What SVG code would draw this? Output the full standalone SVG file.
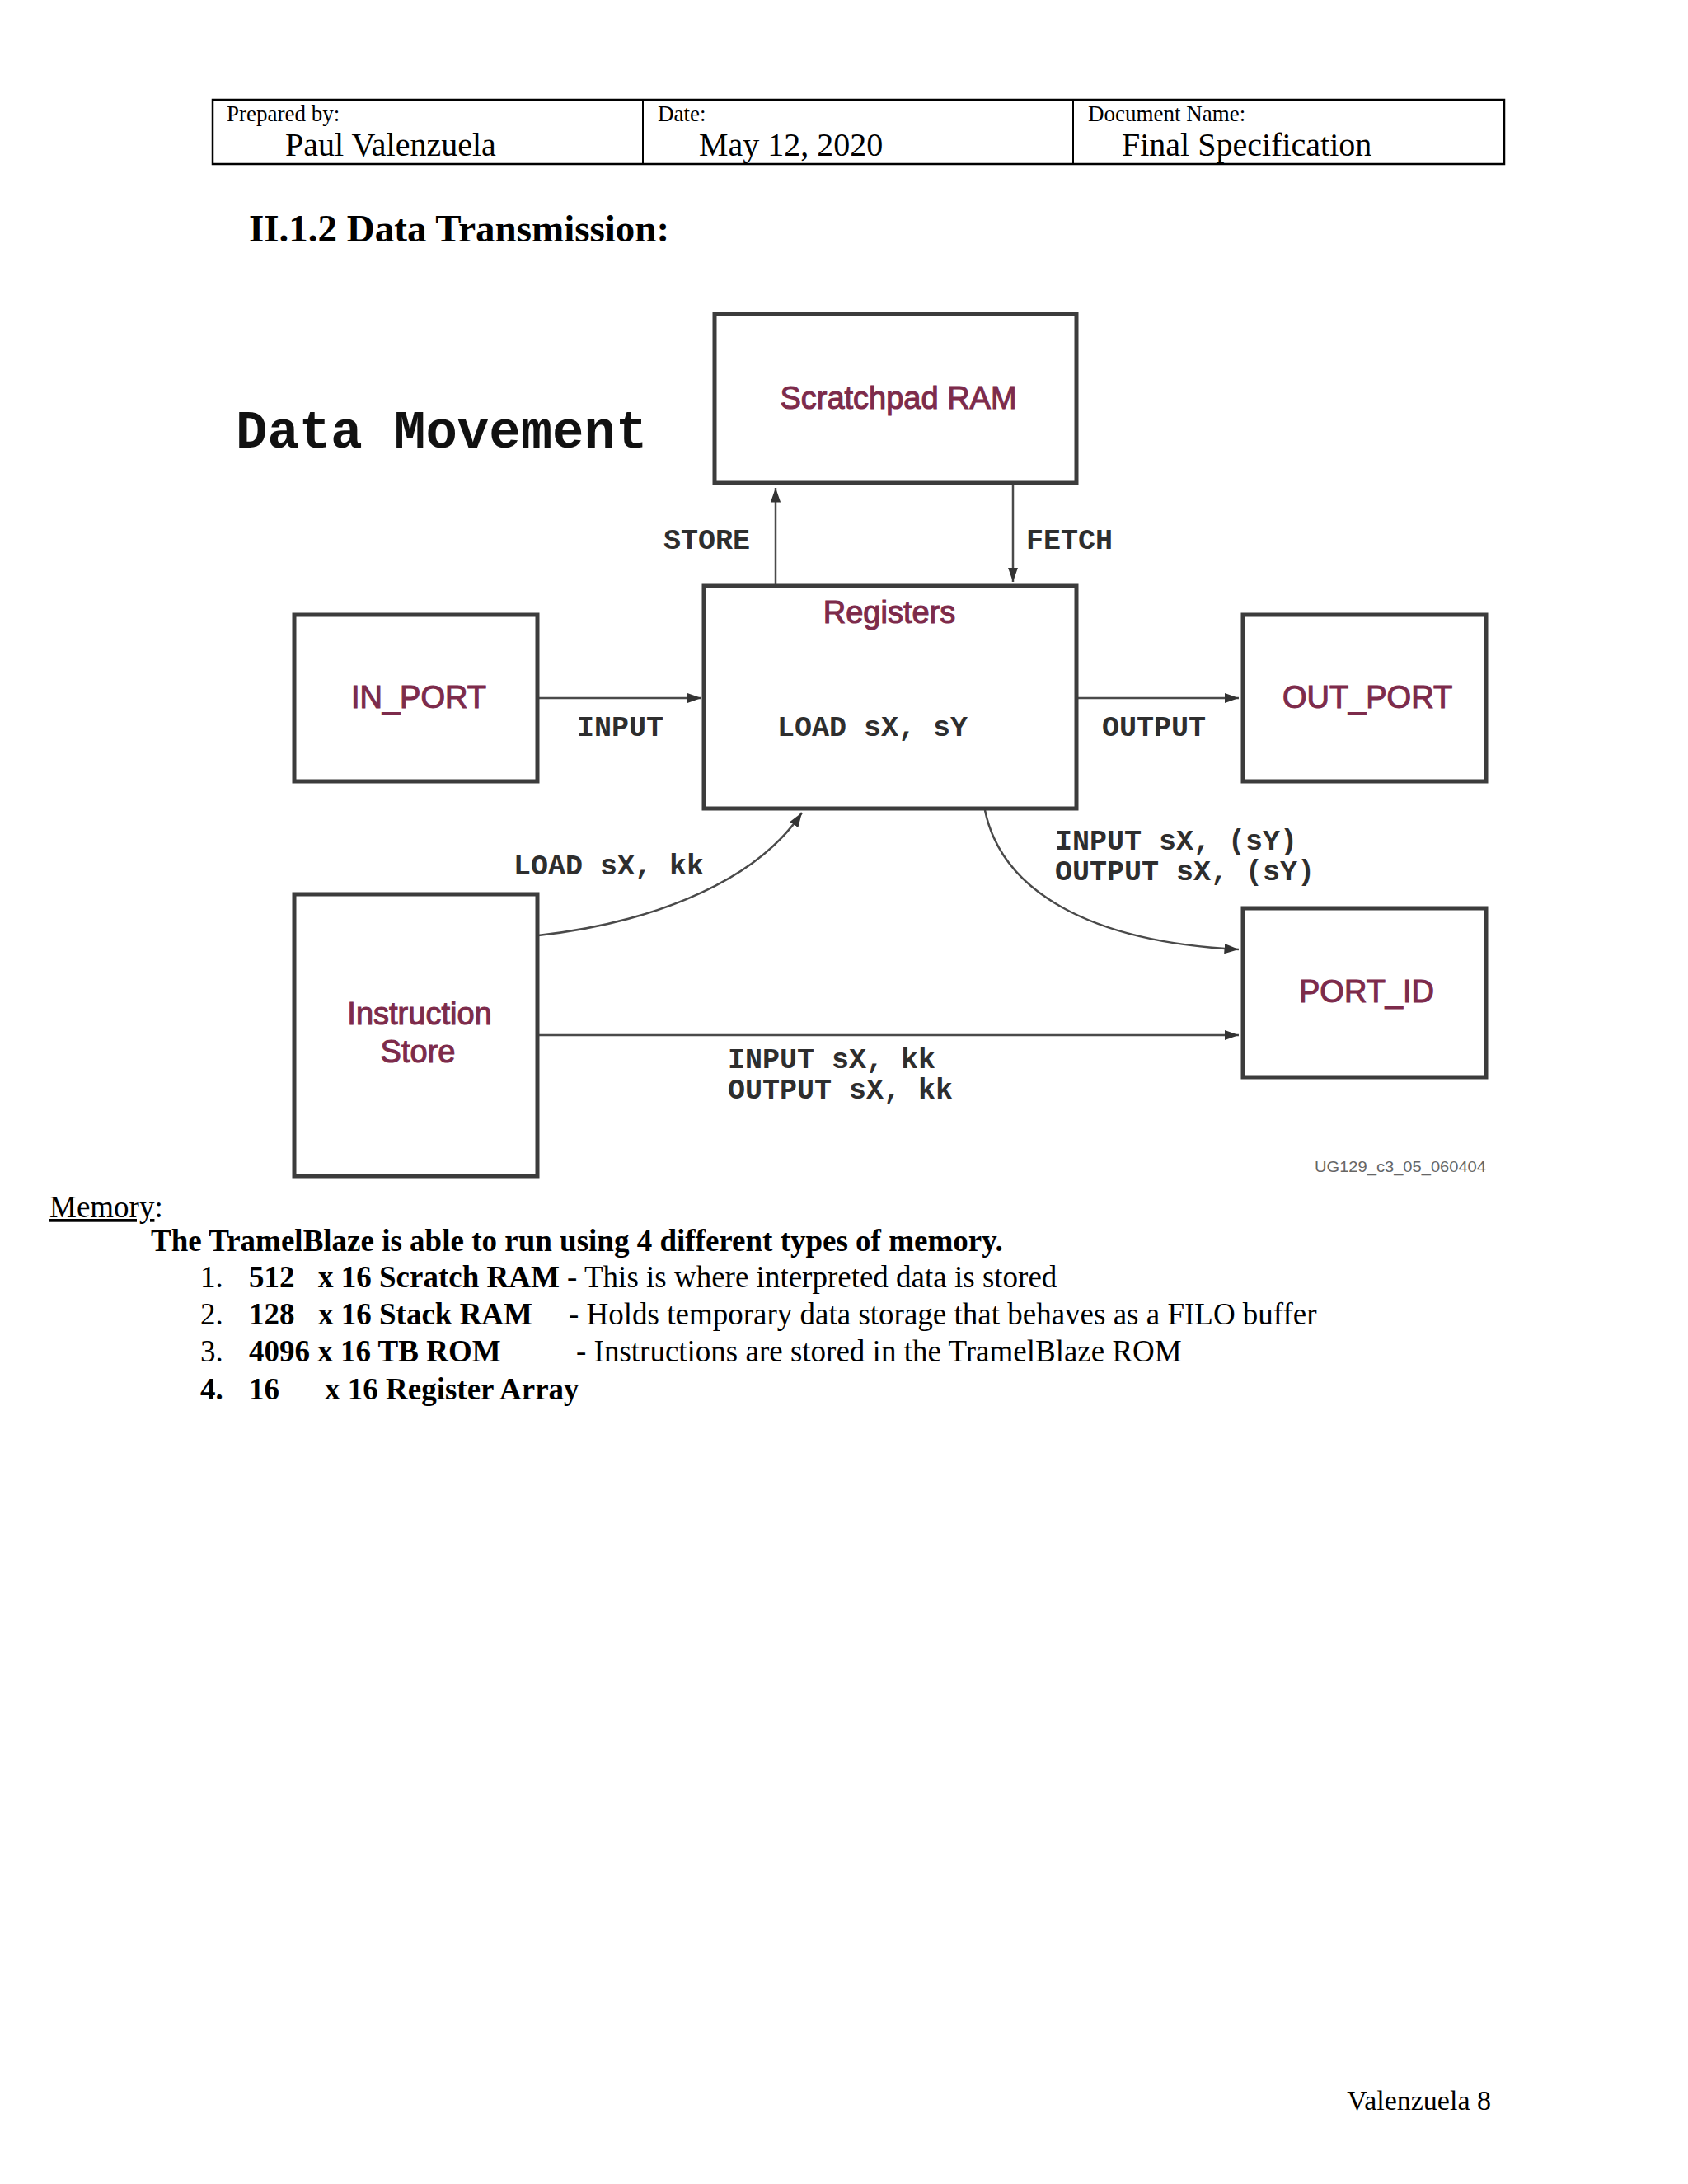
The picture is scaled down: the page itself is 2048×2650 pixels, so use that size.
<svg xmlns="http://www.w3.org/2000/svg" width="2048" height="2650" viewBox="0 0 2048 2650">
<style>
.doc{font-family:"Liberation Serif","Times New Roman",serif;fill:#000}
.b{font-weight:bold}
.box{fill:#fff;stroke:#3c3c3c;stroke-width:5}
.lbl{font-family:"Liberation Sans",Arial,sans-serif;font-size:38px;fill:#7d2b4b;stroke:#7d2b4b;stroke-width:1.1;text-anchor:middle}
.mono{font-family:"Liberation Mono","Courier New",monospace;font-weight:bold;font-size:35px;fill:#2e2e2e}
.con{fill:none;stroke:#4a4a4a;stroke-width:2.5}
</style>
<defs>
<marker id="ah" viewBox="0 0 10 10" refX="10" refY="5" markerWidth="7" markerHeight="7" orient="auto" markerUnits="strokeWidth">
<path d="M0,1.5 L10,5 L0,8.5 z" fill="#333"/>
</marker>
<marker id="ahs" viewBox="0 0 10 10" refX="0" refY="5" markerWidth="7" markerHeight="7" orient="auto" markerUnits="strokeWidth">
<path d="M10,1.5 L0,5 L10,8.5 z" fill="#333"/>
</marker>
</defs>
<rect width="2048" height="2650" fill="#fff"/>

<g id="header">
<rect x="258" y="121" width="1567" height="78" fill="none" stroke="#000" stroke-width="2.5"/>
<line x1="780" y1="121" x2="780" y2="199" stroke="#000" stroke-width="2"/>
<line x1="1302" y1="121" x2="1302" y2="199" stroke="#000" stroke-width="2"/>
<text class="doc" x="275" y="147" font-size="27">Prepared by:</text>
<text class="doc" x="346" y="189" font-size="40">Paul Valenzuela</text>
<text class="doc" x="798" y="147" font-size="27">Date:</text>
<text class="doc" x="848" y="189" font-size="40">May 12, 2020</text>
<text class="doc" x="1320" y="147" font-size="27">Document Name:</text>
<text class="doc" x="1361" y="189" font-size="40">Final Specification</text>
</g>

<text class="doc b" x="302" y="293" font-size="47">II.1.2 Data Transmission:</text>

<text x="286" y="543" font-family="Liberation Mono,Courier New,monospace" font-weight="bold" font-size="64" fill="#111">Data Movement</text>

<g id="connectors">
<line class="con" x1="941" y1="710" x2="941" y2="592" marker-end="url(#ah)"/>
<line class="con" x1="1229" y1="586" x2="1229" y2="706" marker-end="url(#ah)"/>
<line class="con" x1="652" y1="847" x2="851" y2="847" marker-end="url(#ah)"/>
<line class="con" x1="1305" y1="847" x2="1503" y2="847" marker-end="url(#ah)"/>
<line class="con" x1="1005" y1="822" x2="1160" y2="822" marker-start="url(#ahs)" marker-end="url(#ah)"/>
<path class="con" d="M653,1135 C770,1122 910,1080 973,986" marker-end="url(#ah)"/>
<path class="con" d="M1195,983 C1215,1080 1320,1143 1503,1152" marker-end="url(#ah)"/>
<line class="con" x1="652" y1="1256" x2="1503" y2="1256" marker-end="url(#ah)"/>
</g>

<g id="scratchpad">
<rect class="box" x="867" y="381" width="439" height="205"/>
<text class="lbl" x="1090" y="496">Scratchpad RAM</text>
</g>
<g id="registers">
<rect class="box" x="854" y="711" width="452" height="270"/>
<text class="lbl" x="1079" y="756">Registers</text>
<text class="mono" x="943" y="893">LOAD sX, sY</text>
</g>
<g id="in_port">
<rect class="box" x="357" y="746" width="295" height="202"/>
<text class="lbl" x="508" y="859">IN_PORT</text>
</g>
<g id="out_port">
<rect class="box" x="1508" y="746" width="295" height="202"/>
<text class="lbl" x="1659" y="859">OUT_PORT</text>
</g>
<g id="instruction_store">
<rect class="box" x="357" y="1085" width="295" height="342"/>
<text class="lbl" x="509" y="1243">Instruction</text>
<text class="lbl" x="507" y="1289">Store</text>
</g>
<g id="port_id">
<rect class="box" x="1508" y="1102" width="295" height="205"/>
<text class="lbl" x="1658" y="1216">PORT_ID</text>
</g>

<g id="labels">
<text class="mono" x="805" y="666">STORE</text>
<text class="mono" x="1245" y="666">FETCH</text>
<text class="mono" x="700" y="893">INPUT</text>
<text class="mono" x="1337" y="893">OUTPUT</text>
<text class="mono" x="623" y="1061">LOAD sX, kk</text>
<text class="mono" x="1280" y="1031">INPUT sX, (sY)</text>
<text class="mono" x="1280" y="1068">OUTPUT sX, (sY)</text>
<text class="mono" x="883" y="1296">INPUT sX, kk</text>
<text class="mono" x="883" y="1333">OUTPUT sX, kk</text>
<text x="1595" y="1422" font-family="Liberation Sans,Arial,sans-serif" font-size="19" fill="#666" textLength="208" lengthAdjust="spacingAndGlyphs">UG129_c3_05_060404</text>
</g>

<g id="memory-text" class="doc" font-size="37">
<text x="60" y="1477"><tspan text-decoration="underline">Memory</tspan>:</text>
<text x="183" y="1518" class="b">The TramelBlaze is able to run using 4 different types of memory.</text>
<text x="243" y="1562">1.</text>
<text x="302" y="1562" class="b">512</text>
<text x="386" y="1562"><tspan class="b">x 16 Scratch RAM</tspan> - This is where interpreted data is stored</text>
<text x="243" y="1607">2.</text>
<text x="302" y="1607" class="b">128</text>
<text x="386" y="1607" class="b">x 16 Stack RAM</text>
<text x="690" y="1607">- Holds temporary data storage that behaves as a FILO buffer</text>
<text x="243" y="1652">3.</text>
<text x="302" y="1652" class="b">4096 x 16 TB ROM</text>
<text x="699" y="1652">- Instructions are stored in the TramelBlaze ROM</text>
<text x="243" y="1698" class="b">4.</text>
<text x="302" y="1698" class="b">16</text>
<text x="394" y="1698" class="b">x 16 Register Array</text>
</g>

<text class="doc" x="1809" y="2560" font-size="34" text-anchor="end">Valenzuela 8</text>
</svg>
